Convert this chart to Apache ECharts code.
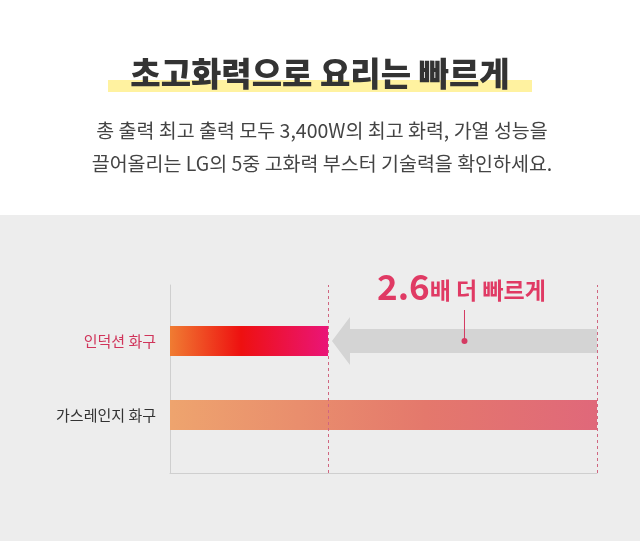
<!DOCTYPE html>
<html style="height: 100%">
<head>
<meta charset="utf-8">
<title>초고화력으로 요리는 빠르게</title>
<script src="https://cdn.jsdelivr.net/npm/echarts@6/dist/echarts.min.js"></script>
</head>
<body style="height: 100%; margin: 0; background: #ededed">
<div id="container" style="height: 100%"></div>
<script>
var categories = ['인덕션 화구', '가스레인지 화구'];
var heatTime = [37, 100];     // relative time to heat, gas = 100
var speedLabel = '2.6';
var font = '"Noto Sans CJK KR", sans-serif';

var chart = echarts.init(document.getElementById('container'));

var option = {
    backgroundColor: '#ededed',
    textStyle: { fontFamily: font },
    grid: [
        { left: 170, width: 427, top: 285, height: 188 },
        { left: 170, width: 427, top: 304, height: 148 }
    ],
    xAxis: [
        { gridIndex: 0, type: 'value', min: 0, max: 100, axisLabel: { show: false }, axisTick: { show: false },
          splitLine: { show: false }, axisLine: { show: true, lineStyle: { color: '#cfcfcf' } } },
        { gridIndex: 1, type: 'value', min: 0, max: 100, show: false }
    ],
    yAxis: [
        { gridIndex: 0, type: 'category', data: ['a'], axisLabel: { show: false }, axisTick: { show: false },
          axisLine: { show: true, lineStyle: { color: '#cfcfcf' } } },
        { gridIndex: 1, type: 'category', data: categories, inverse: true,
          axisLine: { show: false }, axisTick: { show: false },
          axisLabel: { margin: 14, fontSize: 15, fontFamily: font,
            color: function (v) { return v === categories[0] ? '#d0345a' : '#333'; } } }
    ],
    series: [
        { type: 'bar', xAxisIndex: 0, yAxisIndex: 0, data: [],
          markLine: { symbol: 'none', silent: true, label: { show: false },
            lineStyle: { color: '#d06680', type: [3, 3], width: 1 },
            data: [{ xAxis: heatTime[0] }, { xAxis: heatTime[1] }] } },
        { type: 'bar', xAxisIndex: 1, yAxisIndex: 1, barWidth: 30, silent: true,
          data: [
            { value: heatTime[0], itemStyle: { color: new echarts.graphic.LinearGradient(0, 0, 1, 0, [
                { offset: 0, color: '#f07c32' }, { offset: 0.45, color: '#ee1010' }, { offset: 1, color: '#ea1578' }]) } },
            { value: heatTime[1], itemStyle: { color: new echarts.graphic.LinearGradient(0, 0, 1, 0, [
                { offset: 0, color: '#eea46e' }, { offset: 0.6, color: '#e4786c' }, { offset: 1, color: '#e0687a' }]) } }
          ] }
    ]
};
chart.setOption(option);

var a = chart.convertToPixel({ xAxisIndex: 1, yAxisIndex: 1 }, [heatTime[0], categories[0]]);
var b = chart.convertToPixel({ xAxisIndex: 1, yAxisIndex: 1 }, [heatTime[1], categories[0]]);
var ax = a[0] + 4, ay = a[1], bx = b[0];
var lx = (ax + bx) / 2;

chart.setOption({
    graphic: [
        { type: 'rect', shape: { x: 0, y: 0, width: 640, height: 215 }, style: { fill: '#fff' }, z: -1 },
        { type: 'rect', shape: { x: 108, y: 80, width: 424, height: 12 }, style: { fill: '#fff2a0' } },
        { type: 'text', x: 320, y: 73, style: { text: '초고화력으로 요리는 빠르게', font: '900 33px ' + font,
            fill: '#333', align: 'center', verticalAlign: 'middle' } },
        { type: 'text', x: 322, y: 131, style: { text: '총 출력 최고 출력 모두 3,400W의 최고 화력, 가열 성능을', font: '19.5px ' + font,
            fill: '#444', align: 'center', verticalAlign: 'middle' } },
        { type: 'text', x: 322, y: 164, style: { text: '끌어올리는 LG의 5중 고화력 부스터 기술력을 확인하세요.', font: '19.5px ' + font,
            fill: '#444', align: 'center', verticalAlign: 'middle' } },
        { type: 'polygon', shape: { points: [[ax, ay], [ax + 18, ay - 24], [ax + 18, ay - 12], [bx, ay - 12],
            [bx, ay + 12], [ax + 18, ay + 12], [ax + 18, ay + 24]] }, style: { fill: '#d4d4d4' } },
        { type: 'line', shape: { x1: lx, y1: 310, x2: lx, y2: ay }, style: { stroke: '#d43a62', lineWidth: 1 } },
        { type: 'circle', shape: { cx: lx, cy: ay, r: 3 }, style: { fill: '#d43a62' } },
        { type: 'text', x: 377, y: 304, style: { rich: {
              n: { font: 'bold 35px ' + font, fill: '#e03a64' },
              t: { font: 'bold 23px ' + font, fill: '#e03a64', padding: [8, 0, 0, 0] } },
            text: '{n|' + speedLabel + '}{t|배 더 빠르게}', verticalAlign: 'bottom' } }
    ]
});
window.onresize = function () { chart.resize(); };
</script>
</body>
</html>
